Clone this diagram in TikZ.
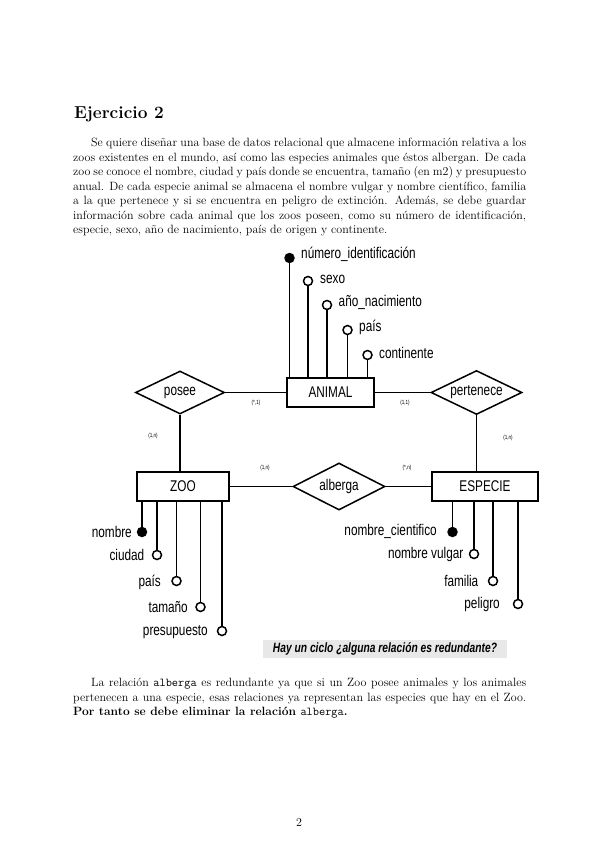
\documentclass[tikz,border=0pt]{standalone}
\usepackage{fontspec}
\newfontfamily\diagfont[FakeStretch=0.76]{Liberation Sans}
\usetikzlibrary{shapes.geometric}
\begin{document}
\begin{tikzpicture}[x=1pt,y=-1pt,
  ent/.style={draw, line width=1.5pt, minimum height=29pt, inner sep=0pt, font=\diagfont\fontsize{15.5}{18}\selectfont},
  rel/.style={draw, diamond, aspect=2, line width=1.5pt, inner sep=0pt, font=\diagfont\fontsize{15.5}{18}\selectfont},
  att/.style={circle, draw, line width=1.5pt, fill=white, minimum size=9pt, inner sep=0pt},
  keyatt/.style={circle, fill=black, minimum size=10.5pt, inner sep=0pt},
  lab/.style={inner sep=0pt, font=\diagfont\fontsize{15.5}{18}\selectfont},
  card/.style={inner sep=0pt, font=\diagfont\fontsize{6}{7}\selectfont},
  conn/.style={line width=1.5pt},
  para/.style={inner sep=0pt, text width=453pt, align=justify, anchor=base west, font=\fontsize{12}{14.5}\selectfont}
]
\useasboundingbox (0,0) rectangle (599,848);
\fill[white] (0,0) rectangle (599,848);

% heading and statement
\node[inner sep=0pt, anchor=base west, font=\fontsize{17.28}{21}\selectfont\bfseries] (title) at (74,119) {Ejercicio 2};
\node[para] (enun) at (73,146.5) {\hyphenpenalty=10000\exhyphenpenalty=10000\tolerance=10000\hspace*{18pt}Se quiere diseñar una base de datos relacional que almacene información relativa a los\linebreak
zoos existentes en el mundo, así como las especies animales que éstos albergan. De cada\linebreak
zoo se conoce el nombre, ciudad y país donde se encuentra, tamaño (en m2) y presupuesto\linebreak
anual. De cada especie animal se almacena el nombre vulgar y nombre científico, familia\linebreak
a la que pertenece y si se encuentra en peligro de extinción. Además, se debe guardar\linebreak
información sobre cada animal que los zoos poseen, como su número de identificación,\linebreak
especie, sexo, año de nacimiento, país de origen y continente.};

% entities and relations
\node[ent, minimum width=87pt] (animal) at (330.5,392.5) {ANIMAL};
\node[ent, minimum width=92pt] (zoo) at (183,486.5) {ZOO};
\node[ent, minimum width=106pt] (especie) at (485,486.5) {ESPECIE};
\node[rel, minimum width=89pt, minimum height=43pt] (posee) at (180,392.5) {posee};
\node[rel, minimum width=91pt, minimum height=44pt] (pertenece) at (476.5,392.5) {pertenece};
\node[rel, minimum width=92pt, minimum height=47pt] (alberga) at (339,486.5) {alberga};

\draw[conn] (posee.east) -- (animal.west);
\draw[conn] (animal.east) -- (pertenece.west);
\draw[conn] (posee.south) -- (posee.south |- zoo.north);
\draw[conn] (pertenece.south) -- (pertenece.south |- especie.north);
\draw[conn] (zoo.east) -- (alberga.west);
\draw[conn] (alberga.east) -- (especie.west);

% cardinalities
\node[card] (c1) at (256,403) {(*,1)};
\node[card] (c2) at (405,403) {(1,1)};
\node[card] (c3) at (153,436) {(1,n)};
\node[card] (c4) at (508,438) {(1,n)};
\node[card] (c5) at (265,468) {(1,n)};
\node[card] (c6) at (407,468) {(*,n)};

% ANIMAL attributes
\node[keyatt] (a1) at (289.5,258) {};
\node[att] (a2) at (308,281) {};
\node[att] (a3) at (327,305) {};
\node[att] (a4) at (347.5,330) {};
\node[att] (a5) at (367.5,355) {};
\draw[conn] (a1.center) -- (a1.center |- animal.north);
\foreach \a in {a2,a3,a4,a5} \draw[conn] (\a.south) -- (\a.south |- animal.north);
\node[lab, anchor=west] (la1) at (301,254) {número\_identificación};
\node[lab, anchor=west] (la2) at (320,279) {sexo};
\node[lab, anchor=west] (la3) at (338.5,302) {año\_nacimiento};
\node[lab, anchor=west] (la4) at (359,327) {país};
\node[lab, anchor=west] (la5) at (379,353) {continente};

% ZOO attributes
\node[keyatt] (z1) at (142,532) {};
\node[att] (z2) at (157,555) {};
\node[att] (z3) at (176.5,581) {};
\node[att] (z4) at (200.5,607) {};
\node[att] (z5) at (222,631) {};
\draw[conn] (z1.center |- zoo.south) -- (z1.center);
\foreach \a in {z2,z3,z4,z5} \draw[conn] (\a.north |- zoo.south) -- (\a.north);
\node[lab, anchor=east] (lz1) at (132,532) {nombre};
\node[lab, anchor=east] (lz2) at (144.5,555) {ciudad};
\node[lab, anchor=east] (lz3) at (161,582) {país};
\node[lab, anchor=east] (lz4) at (188,607) {tamaño};
\node[lab, anchor=east] (lz5) at (208,632) {presupuesto};

% ESPECIE attributes
\node[keyatt] (e1) at (452.5,532) {};
\node[att] (e2) at (474,554) {};
\node[att] (e3) at (493,581) {};
\node[att] (e4) at (518,604) {};
\draw[conn] (e1.center |- especie.south) -- (e1.center);
\foreach \a in {e2,e3,e4} \draw[conn] (\a.north |- especie.south) -- (\a.north);
\node[lab, anchor=east] (le1) at (437,531) {nombre\_cientifico};
\node[lab, anchor=east] (le2) at (463.5,554) {nombre vulgar};
\node[lab, anchor=east] (le3) at (478.5,581) {familia};
\node[lab, anchor=east] (le4) at (500,604) {peligro};

% question
\node[fill=black!9, minimum width=244pt, minimum height=18pt, inner sep=0pt, font=\diagfont\fontsize{13.5}{16}\selectfont\bfseries\itshape] (q) at (385,649) {Hay un ciclo ¿alguna relación es redundante?};

% answer
\node[para] (resp) at (73,686.5) {\hyphenpenalty=10000\exhyphenpenalty=10000\tolerance=10000\hspace*{18pt}La relación \texttt{alberga} es redundante ya que si un Zoo posee animales y los animales\linebreak
pertenecen a una especie, esas relaciones ya representan las especies que hay en el Zoo.\linebreak
\textbf{Por tanto se debe eliminar la relación \textmd{\texttt{alberga}}.}};

\node[inner sep=0pt, anchor=base, font=\fontsize{12}{14.5}\selectfont] (pg) at (299,826) {2};
\end{tikzpicture}
\end{document}
